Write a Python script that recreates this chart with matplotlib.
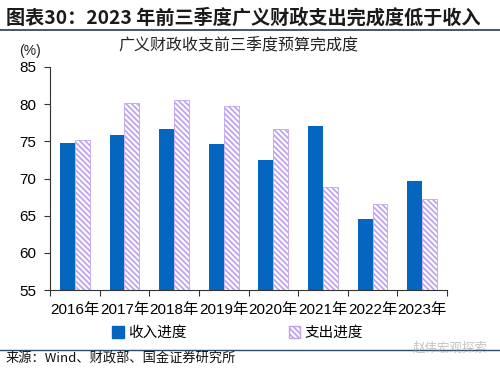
import matplotlib
matplotlib.use('Agg')
import matplotlib.pyplot as plt
import numpy as np
from matplotlib.patches import Patch

plt.rcParams['font.family'] = ['Liberation Sans', 'Noto Sans CJK SC', 'DejaVu Sans']
plt.rcParams['hatch.linewidth'] = 1.3

years = ['2016年', '2017年', '2018年', '2019年', '2020年', '2021年', '2022年', '2023年']
income = [74.8, 75.9, 76.6, 74.6, 72.5, 77.1, 64.6, 69.7]
spend = [75.2, 80.2, 80.6, 79.7, 76.7, 68.9, 66.6, 67.2]
yticks = [55, 60, 65, 70, 75, 80, 85]

blue = '#0566C0'
lav = '#BFA3EE'
plt.rcParams['hatch.color'] = lav
hatch = '\\' * 6

fig = plt.figure(figsize=(5, 3.7), dpi=100)
ax = fig.add_axes([0.1, 0.216, 0.794, 0.603])

x = np.arange(len(years))
w = 0.3
ax.bar(x - w/2, income, w, color=blue, zorder=2)
ax.bar(x + w/2, spend, w, color='white', edgecolor=lav, hatch=hatch, linewidth=0.6, zorder=2)

ax.set_ylim(55, 85)
ax.set_xlim(-0.5, len(years) - 0.5)
ax.set_yticks(yticks)
ax.set_xticks(np.arange(len(years) + 1) - 0.5)
ax.set_xticklabels([])
ax.tick_params(axis='x', length=4, width=0.8, color='#333333')
ax.tick_params(axis='y', length=4, width=0.8, color='#333333', labelsize=11, pad=6)
for i, lab in enumerate(years):
    ax.text(i, 53.3, lab, ha='center', va='top', fontsize=11)
for s in ['top', 'right']:
    ax.spines[s].set_visible(False)
for s in ['left', 'bottom']:
    ax.spines[s].set_color('#333333')
    ax.spines[s].set_linewidth(0.8)

# titles
fig.text(0.012, 0.952, '图表30：2023 年前三季度广义财政支出完成度低于收入',
         fontsize=13.8, fontweight='bold', style='italic', color='#1a1a1a',
         family=['Noto Sans CJK SC'], va='center')
fig.add_artist(plt.Line2D([0, 1], [0.918, 0.918], color='#2a3a4a', lw=1.2))
fig.text(0.477, 0.876, '广义财政收支前三季度预算完成度', fontsize=11.5,
         family=['Noto Sans CJK SC'], ha='center', va='center', color='#222222')
fig.text(0.06, 0.862, '(%)', fontsize=10, ha='center', va='center', color='#222222')

# legend
h1 = Patch(facecolor=blue, edgecolor=blue)
h2 = Patch(facecolor='white', edgecolor=lav, hatch=hatch)
fig.legend([h1, h2], ['收入进度', '支出进度'], loc='center', bbox_to_anchor=(0.475, 0.1),
           ncol=2, frameon=False, handlelength=0.8, handleheight=0.8,
           handletextpad=0.3, columnspacing=7.0, prop={'family': ['Noto Sans CJK SC'], 'size': 10.5})

fig.add_artist(plt.Line2D([0, 1], [0.055, 0.055], color='#2a4a6a', lw=1.0))
fig.text(0.012, 0.03, '来源：Wind、财政部、国金证券研究所', fontsize=9.5,
         family=['Noto Sans CJK SC'], va='center', color='#111111')
fig.text(0.9, 0.058, '赵伟宏观探索', fontsize=9, family=['Noto Sans CJK SC'],
         ha='center', va='center', color='#9a9a9a', alpha=0.6)

fig.savefig('out.png', dpi=100)
